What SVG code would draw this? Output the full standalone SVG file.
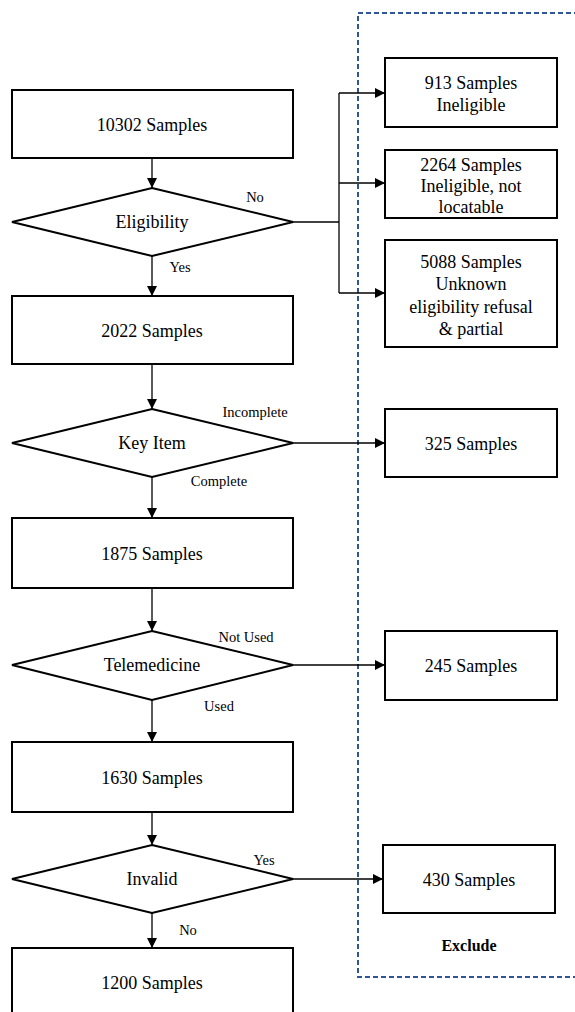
<svg xmlns="http://www.w3.org/2000/svg" width="575" height="1012" viewBox="0 0 575 1012">
  <style>
    .box { fill: #fff; stroke: #000; stroke-width: 2; }
    .dia { fill: #fff; stroke: #000; stroke-width: 2; }
    .t { font-family: "Liberation Serif", "Times New Roman", serif; font-size: 18px; fill: #000; text-anchor: middle; }
    .lbl { font-family: "Liberation Serif", "Times New Roman", serif; font-size: 14.5px; fill: #000; text-anchor: middle; }
    .ex { font-family: "Liberation Serif", "Times New Roman", serif; font-size: 16px; font-weight: bold; fill: #000; text-anchor: middle; }
    .wire { fill: none; stroke: #000; stroke-width: 1.3; }
    .zone { fill: none; stroke: #2f5597; stroke-width: 2; stroke-dasharray: 5 3; }
  </style>
  <defs>
    <marker id="arr" viewBox="0 0 10 10" refX="10" refY="5" markerWidth="10" markerHeight="10" markerUnits="userSpaceOnUse" orient="auto">
      <path d="M0,0 L10,5 L0,10 Z" fill="#000"/>
    </marker>
  </defs>
  <rect width="575" height="1012" fill="#fff"/>

  <!-- exclusion zone -->
  <g id="exclude-zone">
    <rect class="zone" x="358" y="13" width="240" height="964"/>
    <text class="ex" x="469" y="951">Exclude</text>
  </g>

  <!-- connectors -->
  <g id="connectors">
    <line class="wire" x1="152" y1="159" x2="152" y2="188" marker-end="url(#arr)"/>
    <line class="wire" x1="152" y1="256" x2="152" y2="296" marker-end="url(#arr)"/>
    <line class="wire" x1="152" y1="364" x2="152" y2="409" marker-end="url(#arr)"/>
    <line class="wire" x1="152" y1="477" x2="152" y2="518" marker-end="url(#arr)"/>
    <line class="wire" x1="152" y1="588" x2="152" y2="631" marker-end="url(#arr)"/>
    <line class="wire" x1="152" y1="700" x2="152" y2="742" marker-end="url(#arr)"/>
    <line class="wire" x1="152" y1="812" x2="152" y2="845" marker-end="url(#arr)"/>
    <line class="wire" x1="152" y1="913" x2="152" y2="948" marker-end="url(#arr)"/>

    <path class="wire" d="M293,222 H339"/>
    <path class="wire" d="M339,93 V293"/>
    <line class="wire" x1="339" y1="93" x2="385" y2="93" marker-end="url(#arr)"/>
    <line class="wire" x1="339" y1="183" x2="385" y2="183" marker-end="url(#arr)"/>
    <line class="wire" x1="339" y1="293" x2="385" y2="293" marker-end="url(#arr)"/>

    <line class="wire" x1="293" y1="443" x2="385" y2="443" marker-end="url(#arr)"/>
    <line class="wire" x1="293" y1="665" x2="385" y2="665" marker-end="url(#arr)"/>
    <line class="wire" x1="293" y1="879" x2="383" y2="879" marker-end="url(#arr)"/>

    <text class="lbl" x="255" y="202">No</text>
    <text class="lbl" x="180" y="272">Yes</text>
    <text class="lbl" x="255" y="417">Incomplete</text>
    <text class="lbl" x="219" y="486">Complete</text>
    <text class="lbl" x="246" y="642">Not Used</text>
    <text class="lbl" x="219" y="711">Used</text>
    <text class="lbl" x="264" y="865">Yes</text>
    <text class="lbl" x="188" y="935">No</text>
  </g>

  <!-- main flow -->
  <g id="n10302">
    <rect class="box" x="12" y="90" width="281" height="68"/>
    <text class="t" x="152" y="131">10302 Samples</text>
  </g>
  <g id="eligibility">
    <polygon class="dia" points="152,188 293,222 152,256 12,222"/>
    <text class="t" x="152" y="228">Eligibility</text>
  </g>
  <g id="n2022">
    <rect class="box" x="12" y="296" width="281" height="68"/>
    <text class="t" x="152" y="337">2022 Samples</text>
  </g>
  <g id="keyitem">
    <polygon class="dia" points="152,409 293,443 152,477 12,443"/>
    <text class="t" x="152" y="449">Key Item</text>
  </g>
  <g id="n1875">
    <rect class="box" x="12" y="518" width="281" height="70"/>
    <text class="t" x="152" y="560">1875 Samples</text>
  </g>
  <g id="telemedicine">
    <polygon class="dia" points="152,631 293,665 152,700 12,665"/>
    <text class="t" x="152" y="671">Telemedicine</text>
  </g>
  <g id="n1630">
    <rect class="box" x="12" y="742" width="281" height="70"/>
    <text class="t" x="152" y="784">1630 Samples</text>
  </g>
  <g id="invalid">
    <polygon class="dia" points="152,845 293,879 152,913 12,879"/>
    <text class="t" x="152" y="885">Invalid</text>
  </g>
  <g id="n1200">
    <rect class="box" x="12" y="948" width="281" height="70"/>
    <text class="t" x="152" y="989">1200 Samples</text>
  </g>

  <!-- excluded -->
  <g id="n913">
    <rect class="box" x="385" y="58" width="172" height="69"/>
    <text class="t" x="471" y="89">913 Samples</text>
    <text class="t" x="471" y="111">Ineligible</text>
  </g>
  <g id="n2264">
    <rect class="box" x="385" y="150" width="172" height="68"/>
    <text class="t" x="471" y="171">2264 Samples</text>
    <text class="t" x="471" y="192">Ineligible, not</text>
    <text class="t" x="471" y="213">locatable</text>
  </g>
  <g id="n5088">
    <rect class="box" x="385" y="240" width="172" height="107"/>
    <text class="t" x="471" y="268">5088 Samples</text>
    <text class="t" x="471" y="290">Unknown</text>
    <text class="t" x="471" y="313">eligibility refusal</text>
    <text class="t" x="471" y="335">&amp; partial</text>
  </g>
  <g id="n325">
    <rect class="box" x="385" y="409" width="172" height="68"/>
    <text class="t" x="471" y="450">325 Samples</text>
  </g>
  <g id="n245">
    <rect class="box" x="385" y="631" width="172" height="69"/>
    <text class="t" x="471" y="672">245 Samples</text>
  </g>
  <g id="n430">
    <rect class="box" x="383" y="845" width="172" height="68"/>
    <text class="t" x="469" y="886">430 Samples</text>
  </g>
</svg>
